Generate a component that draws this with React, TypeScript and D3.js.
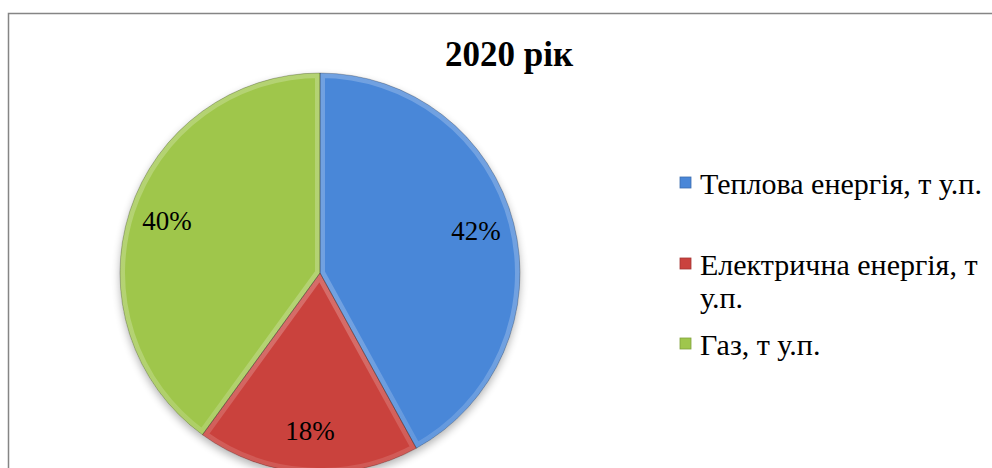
import React from "react";
import * as d3 from "d3";

const title = "2020 рік";
const categories = ["Теплова енергія, т у.п.", "Електрична енергія, т у.п.", "Газ, т у.п."];
const legendLines = [["Теплова енергія, т у.п."], ["Електрична енергія, т", "у.п."], ["Газ, т у.п."]];
const values = [42, 18, 40];
const colors = ["#4a87d8", "#ca423e", "#9fc64c"];

const W = 992, H = 468;
const cx = 320, cy = 273, R = 200;
const labelR = 161;
const FONT = "Liberation Serif";

export default function App() {
  const pie = d3.pie<number>().sort(null).value((d) => d);
  const arcs = pie(values);
  const arc = d3.arc<d3.PieArcDatum<number>>().innerRadius(0).outerRadius(R);
  const labelArc = d3.arc<d3.PieArcDatum<number>>().innerRadius(labelR).outerRadius(labelR);
  const total = d3.sum(values);
  const legendY = [183, 264, 344];

  return (
    <svg width={W} height={H} style={{ position: "absolute", left: 0, top: 0, background: "#fff" }}>
      <defs>
        <filter id="shadow" x="-20%" y="-20%" width="140%" height="140%">
          <feGaussianBlur in="SourceAlpha" stdDeviation="4" />
          <feOffset dx="0" dy="4" result="b" />
          <feComponentTransfer><feFuncA type="linear" slope="0.3" /></feComponentTransfer>
          <feMerge><feMergeNode /><feMergeNode in="SourceGraphic" /></feMerge>
        </filter>
        <linearGradient id="bevel" gradientUnits="userSpaceOnUse" x1={0} y1={cy - R} x2={0} y2={cy + R}>
          <stop offset="0" stopColor="#fff" stopOpacity={0.22} />
          <stop offset="0.5" stopColor="#fff" stopOpacity={0.06} />
          <stop offset="1" stopColor="#000" stopOpacity={0.24} />
        </linearGradient>
        {arcs.map((a, i) => (
          <clipPath id={`clip${i}`} key={i}>
            <path d={arc(a) || ""} transform={`translate(${cx},${cy})`} />
          </clipPath>
        ))}
      </defs>
      <rect x={8.5} y={13.5} width={1000} height={500} fill="#fff" stroke="#858585" strokeWidth={1.5} />
      <text x={509} y={66} textAnchor="middle" fontFamily={FONT} fontWeight="bold" fontSize={35} fill="#000">{title}</text>
      <g filter="url(#shadow)">
        {arcs.map((a, i) => (
          <path key={i} d={arc(a) || ""} transform={`translate(${cx},${cy})`} fill={colors[i]} />
        ))}
      </g>
      {arcs.map((a, i) => (
        <g key={i} clipPath={`url(#clip${i})`}>
          <path d={arc(a) || ""} transform={`translate(${cx},${cy})`} fill="none" stroke="url(#bevel)" strokeWidth={10} strokeLinejoin="round" />
        </g>
      ))}
      {arcs.map((a, i) => (
        <path key={"o" + i} d={arc(a) || ""} transform={`translate(${cx},${cy})`} fill="none" stroke="rgba(0,0,0,0.3)" strokeWidth={0.8} />
      ))}
      {arcs.map((a, i) => {
        const [lx, ly] = labelArc.centroid(a);
        return (
          <text key={i} x={cx + lx} y={cy + ly} dy="0.25em" textAnchor="middle" fontFamily={FONT} fontSize={27} fill="#000">
            {`${Math.round((values[i] / total) * 100)}%`}
          </text>
        );
      })}
      {categories.map((c, i) => (
        <g key={c}>
          <rect x={680} y={legendY[i] - 6} width={11} height={11} fill={colors[i]} stroke={d3.color(colors[i])!.darker(0.6).formatHex()} strokeWidth={0.8} />
          {legendLines[i].map((line, j) => (
            <text key={j} x={700} y={legendY[i] + j * 33} dy="0.35em" fontFamily={FONT} fontSize={30} fill="#000">{line}</text>
          ))}
        </g>
      ))}
    </svg>
  );
}
